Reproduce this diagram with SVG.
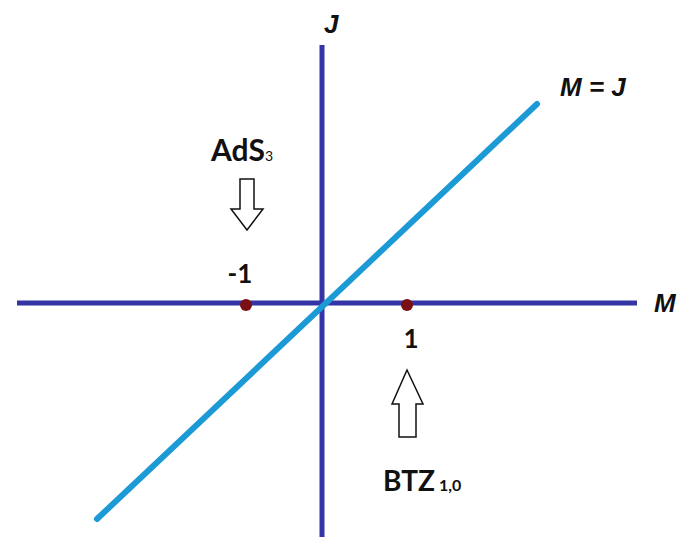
<svg xmlns="http://www.w3.org/2000/svg" width="683" height="537" viewBox="0 0 683 537">
<style>
.axis{stroke:#3434a6;stroke-width:5;fill:none}
.diag{stroke:#1b9ad6;stroke-width:6;stroke-linecap:round;fill:none}
.dot{fill:#7a0f14}
.lbl{font-family:Lato,"Open Sans","Liberation Sans",sans-serif;font-weight:bold;fill:#111}
.it{font-family:"Liberation Sans",Arial,sans-serif;font-weight:bold;font-style:italic;fill:#111}
.harrow{fill:#fff;stroke:#111;stroke-width:1.5}
</style>
<rect width="683" height="537" fill="#fff"/>
<g id="connectors">
<line class="axis" x1="17" y1="303" x2="637" y2="303"/>
<line class="axis" x1="322" y1="45" x2="322" y2="537"/>
<line class="diag" x1="97" y1="519" x2="537" y2="104"/>
</g>
<g id="point-neg1">
<circle class="dot" cx="246" cy="305" r="6"/>
<text class="lbl" x="240" y="283" font-size="26" text-anchor="middle">-1</text>
</g>
<g id="point-1">
<circle class="dot" cx="407" cy="305" r="6"/>
<text class="lbl" x="411" y="348" font-size="26" text-anchor="middle">1</text>
</g>
<g id="axis-labels">
<text class="it" x="324" y="33" font-size="26">J</text>
<text class="it" x="654" y="312" font-size="26">M</text>
<text class="it" x="560" y="96" font-size="26">M = J</text>
</g>
<g id="ads3">
<text class="lbl" x="211" y="161" font-size="30">AdS<tspan font-size="14" font-weight="normal">3</tspan></text>
<polygon class="harrow" points="240,179 254,179 254,209 263,209 247,230 231,209 240,209"/>
</g>
<g id="btz">
<polygon class="harrow" points="407,370 423,404 416,404 416,437 399,437 399,404 392,404"/>
<text class="lbl" x="383" y="491" font-size="28">BTZ<tspan font-size="16" dx="4">1,0</tspan></text>
</g>
</svg>
